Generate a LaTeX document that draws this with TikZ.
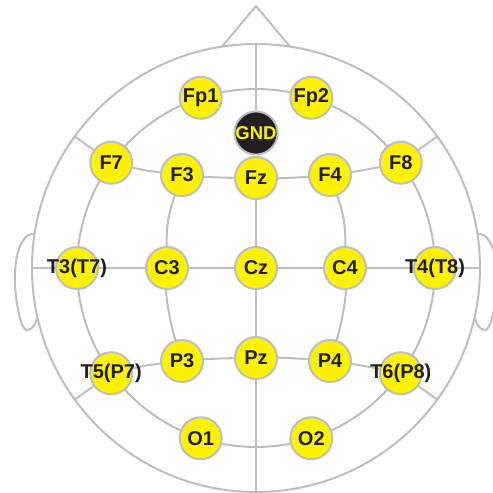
\documentclass[tikz,border=0pt]{standalone}
\usepackage{fontspec}
\setmainfont{Liberation Sans}
\usetikzlibrary{positioning, backgrounds}
\definecolor{padyellow}{RGB}{255,242,0}
\definecolor{headgray}{RGB}{188,190,192}
\definecolor{ink}{RGB}{35,31,32}

\begin{document}
\begin{tikzpicture}[x=1pt, y=1pt,
    electrode/.style={circle, draw=headgray, line width=2pt, fill=padyellow,
        minimum size=42pt, inner sep=0pt, text=ink,
        font=\bfseries\fontsize{20}{20}\selectfont},
    ground/.style={electrode, fill=ink, text=padyellow,
        font=\bfseries\fontsize{18.5}{20}\selectfont},
    lead/.style={draw=headgray, line width=2pt}]
    \useasboundingbox (-256,-225) rectangle (237,268);

    % electrodes
    \node[electrode] (Fp1) at (108:179) {Fp1};
    \node[electrode] (Fp2) at (72:179) {Fp2};
    \node[ground] (GND) at (0,135) {GND};
    \node[electrode] (F7) at (144:179) {F7};
    \node[electrode] (F3) at (-74,93) {F3};
    \node[electrode] (Fz) at (0,90) {Fz};
    \node[electrode] (F4) at (74,93) {F4};
    \node[electrode] (F8) at (36:179) {F8};
    \node[electrode] (T3) at (180:179) {\makebox[0pt]{T3(T7)}};
    \node[electrode] (C3) at (-89,0) {C3};
    \node[electrode] (Cz) at (0,0) {Cz};
    \node[electrode] (C4) at (89,0) {C4};
    \node[electrode] (T4) at (0:179) {\makebox[0pt]{T4(T8)}};
    \node[electrode] (T5) at (216:179) {\makebox[0pt]{T5(P7)}};
    \node[electrode] (P3) at (-74,-93) {P3};
    \node[electrode] (Pz) at (0,-90) {Pz};
    \node[electrode] (P4) at (74,-93) {P4};
    \node[electrode] (T6) at (-36:179) {\makebox[0pt]{T6(P8)}};
    \node[electrode] (O1) at (252:179) {O1};
    \node[electrode] (O2) at (288:179) {O2};

    % ends on the head outline
    \coordinate (top) at (90:224);
    \coordinate (bottom) at (270:224);
    \coordinate (left) at (180:224);
    \coordinate (right) at (0:224);
    \coordinate (nw) at (144:224);
    \coordinate (ne) at (36:224);
    \coordinate (sw) at (216:224);
    \coordinate (se) at (-36:224);

    \begin{scope}[on background layer]
        % head, nose and ears
        \draw[lead] (0,0) circle (224);
        \draw[lead] (-34,221.4) -- (0,262) -- (34,221.4);
        \draw[lead] (-221.4,34) .. controls (-238,36) and (-244,0) .. (-240,-28)
            .. controls (-237,-52) and (-233,-63) .. (-228,-62)
            .. controls (-223,-61) and (-220,-55) .. (-218.6,-49);
        \draw[lead] (221.4,34) .. controls (238,36) and (244,0) .. (240,-28)
            .. controls (237,-52) and (233,-63) .. (228,-62)
            .. controls (223,-61) and (220,-55) .. (218.6,-49);
        \draw[lead] (0,0) circle (179);

        \draw[lead] (top) -- (GND) -- (Fz) -- (Cz) -- (Pz) -- (bottom);
        \draw[lead] (left) -- (T3) -- (C3) -- (Cz) -- (C4) -- (T4) -- (right);
        \draw[lead] (F7) to[bend right=3] (F3) to[bend right=3] (Fz)
            to[bend right=3] (F4) to[bend right=3] (F8);
        \draw[lead] (T5) to[bend left=3] (P3) to[bend left=3] (Pz)
            to[bend left=3] (P4) to[bend left=3] (T6);
        \draw[lead] (F3) to[bend right=10] (C3) to[bend right=10] (P3);
        \draw[lead] (F4) to[bend left=10] (C4) to[bend left=10] (P4);
        \draw[lead] (nw) -- (F7);
        \draw[lead] (ne) -- (F8);
        \draw[lead] (sw) -- (T5);
        \draw[lead] (se) -- (T6);
    \end{scope}
\end{tikzpicture}
\end{document}
